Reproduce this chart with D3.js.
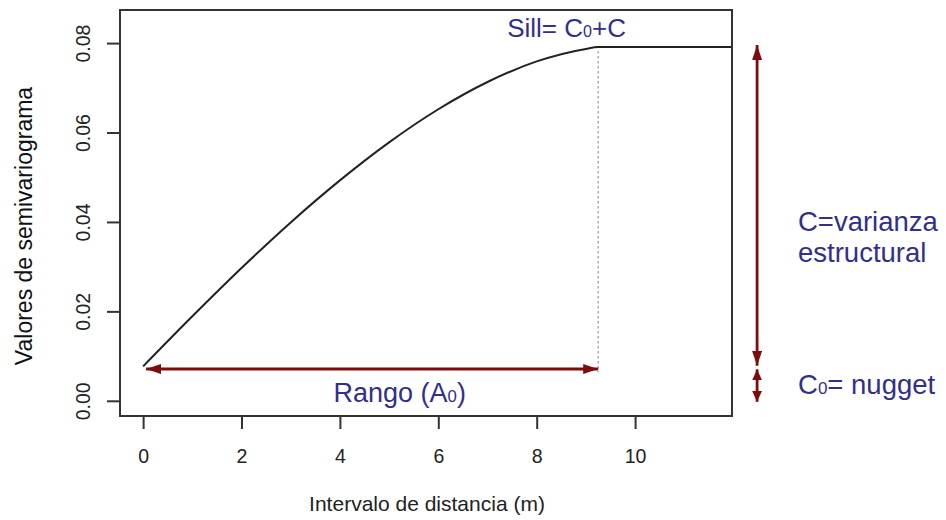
<!DOCTYPE html>
<html>
<head>
<meta charset="utf-8">
<script src="https://cdn.jsdelivr.net/npm/d3@7"></script>
<style>
  html, body { margin: 0; padding: 0; background: #fff; }
  svg { display: block; font-family: "Liberation Sans", Arial, Helvetica, sans-serif; }
</style>
</head>
<body>
<svg id="chart" width="946" height="520"></svg>
<script>
// ---- data ----
const distance     = [0, 1, 2, 3, 4, 5, 6, 7, 8, 9, 9.25, 11.97];
const semivariance = [0.0077, 0.0189, 0.0297, 0.0399, 0.0493, 0.0578, 0.0652, 0.0713, 0.0759, 0.0787, 0.0791, 0.0791];
const xTicks = [0, 2, 4, 6, 8, 10];
const xTickLabels = ["0", "2", "4", "6", "8", "10"];
const yTicks = [0, 0.02, 0.04, 0.06, 0.08];
const yTickLabels = ["0.00", "0.02", "0.04", "0.06", "0.08"];
const nugget = 0.0077;
const sill = 0.0791;
const rangeA = 9.25;
const xTitle = "Intervalo de distancia (m)";
const yTitle = "Valores de semivariograma";

// ---- layout ----
const W = 946, H = 520;
const plot = { left: 120, right: 732, top: 10, bottom: 416 };
const annColor = "#332e8c";
const arrowColor = "#7d0d0d";
const axisColor = "#333";

const svg = d3.select("#chart");

const x = d3.scaleLinear().domain([-0.47, 11.97]).range([plot.left, plot.right]);
const y = d3.scaleLinear().domain([-0.0034, 0.0874]).range([plot.bottom, plot.top]);

// markers
const defs = svg.append("defs");
function marker(id, len, half) {
  defs.append("marker")
    .attr("id", id)
    .attr("markerUnits", "userSpaceOnUse")
    .attr("viewBox", `${-len} ${-half} ${len} ${half * 2}`)
    .attr("refX", 0).attr("refY", 0)
    .attr("markerWidth", len).attr("markerHeight", half * 2)
    .attr("orient", "auto-start-reverse")
    .append("path")
    .attr("d", `M0,0 L${-len},${-half} L${-len},${half} Z`)
    .attr("fill", arrowColor);
}
marker("headBig", 15, 5);
marker("headSmall", 11, 5);

defs.append("clipPath").attr("id", "clip")
  .append("rect")
  .attr("x", plot.left).attr("y", plot.top)
  .attr("width", plot.right - plot.left).attr("height", plot.bottom - plot.top);

// dotted range line
svg.append("line")
  .attr("x1", x(rangeA)).attr("x2", x(rangeA))
  .attr("y1", y(sill) + 4).attr("y2", y(nugget) + 6)
  .attr("stroke", "#999").attr("stroke-width", 1.2)
  .attr("stroke-dasharray", "2.5,2.5");

// curve
const pts = distance.map((d, i) => [d, semivariance[i]]);
svg.append("path")
  .datum(pts)
  .attr("clip-path", "url(#clip)")
  .attr("fill", "none")
  .attr("stroke", "#222")
  .attr("stroke-width", 2)
  .attr("d", d3.line().x(d => x(d[0])).y(d => y(d[1])).curve(d3.curveMonotoneX));

// plot box
svg.append("rect")
  .attr("x", plot.left).attr("y", plot.top)
  .attr("width", plot.right - plot.left).attr("height", plot.bottom - plot.top)
  .attr("fill", "none").attr("stroke", axisColor).attr("stroke-width", 2);

// x axis
const gx = svg.append("g")
  .attr("transform", `translate(0,${plot.bottom + 1})`)
  .call(d3.axisBottom(x).tickValues(xTicks).tickSize(12).tickFormat((d, i) => xTickLabels[i]));
gx.select(".domain").remove();
gx.selectAll(".tick line").attr("stroke", axisColor).attr("stroke-width", 2);
gx.selectAll(".tick text")
  .attr("y", 46).attr("dy", null)
  .attr("fill", "#222")
  .style("font-size", "19.5px")
  .style("font-family", "'Liberation Sans', Arial, sans-serif");

// y axis
const gy = svg.append("g")
  .attr("transform", `translate(${plot.left - 1},0)`)
  .call(d3.axisLeft(y).tickValues(yTicks).tickSize(12).tickFormat((d, i) => yTickLabels[i]));
gy.select(".domain").remove();
gy.selectAll(".tick line").attr("stroke", axisColor).attr("stroke-width", 2);
gy.selectAll(".tick text")
  .attr("x", null).attr("dy", null)
  .attr("transform", "translate(-29,0) rotate(-90)")
  .attr("text-anchor", "middle")
  .attr("fill", "#222")
  .style("font-size", "19.5px")
  .style("font-family", "'Liberation Sans', Arial, sans-serif");

// axis titles
svg.append("text")
  .attr("x", (plot.left + plot.right) / 2 + 1).attr("y", 511)
  .attr("text-anchor", "middle")
  .attr("fill", "#222")
  .style("font-size", "21px")
  .text(xTitle);

svg.append("text")
  .attr("transform", `translate(32,${226}) rotate(-90)`)
  .attr("text-anchor", "middle")
  .attr("fill", "#111")
  .style("font-size", "23px")
  .text(yTitle);

// horizontal range arrow
svg.append("line")
  .attr("x1", x(0.06)).attr("x2", x(rangeA))
  .attr("y1", y(0.0071)).attr("y2", y(0.0071))
  .attr("stroke", arrowColor).attr("stroke-width", 3)
  .attr("marker-start", "url(#headBig)")
  .attr("marker-end", "url(#headBig)");

// vertical arrows (outside the plot)
const arrowX = 12.48;
svg.append("line")
  .attr("x1", x(arrowX)).attr("x2", x(arrowX))
  .attr("y1", y(sill) - 2).attr("y2", y(nugget) - 0.5)
  .attr("stroke", arrowColor).attr("stroke-width", 2.8)
  .attr("marker-start", "url(#headBig)")
  .attr("marker-end", "url(#headBig)");
svg.append("line")
  .attr("x1", x(arrowX)).attr("x2", x(arrowX))
  .attr("y1", y(nugget) + 3).attr("y2", y(0) + 1)
  .attr("stroke", arrowColor).attr("stroke-width", 2.8)
  .attr("marker-start", "url(#headSmall)")
  .attr("marker-end", "url(#headSmall)");

// annotation texts
function annText(px, py, parts, size) {
  const t = svg.append("text")
    .attr("x", px).attr("y", py)
    .attr("fill", annColor)
    .style("font-size", size + "px");
  parts.forEach(p => {
    const s = t.append("tspan").text(p.t);
    if (p.small) s.style("font-size", (size * 0.62) + "px");
  });
  return t;
}
annText(x(rangeA) - 91, 36.5, [{t: "Sill= C"}, {t: "0", small: true}, {t: "+C"}], 26);
annText(x(3.87), 401.5, [{t: "Rango (A"}, {t: "0", small: true}, {t: ")"}], 27);
annText(798, 231, [{t: "C=varianza"}], 27.5);
annText(798, 262, [{t: "estructural"}], 27.5);
annText(798, 394, [{t: "C"}, {t: "0", small: true}, {t: "= nugget"}], 27.5);
</script>
</body>
</html>
